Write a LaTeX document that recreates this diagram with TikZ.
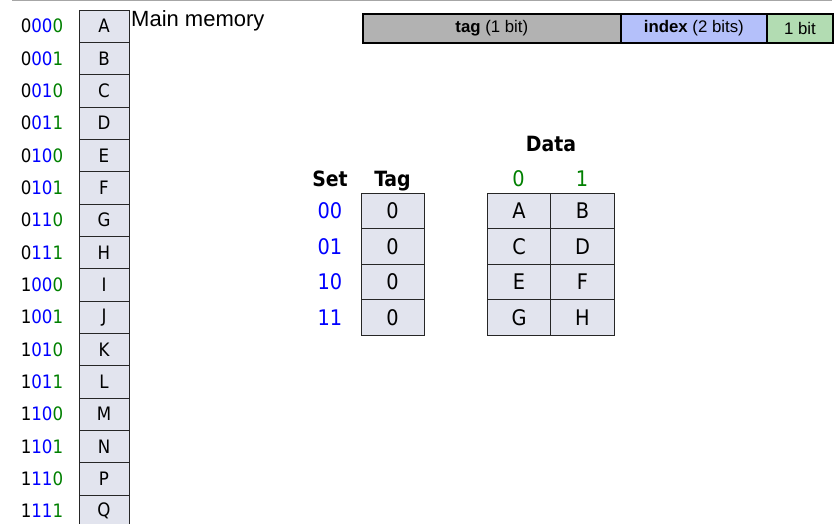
\documentclass[tikz,border=0pt]{standalone}
\usepackage{fontspec}
\setmainfont{DejaVu Sans Condensed}
\newfontfamily\arialfont{Liberation Sans}
\definecolor{cellfill}{RGB}{226,228,238}
\definecolor{addrblue}{RGB}{0,0,255}
\definecolor{addrgreen}{RGB}{0,128,0}
\definecolor{taggray}{RGB}{178,178,178}
\definecolor{idxblue}{RGB}{180,192,250}
\definecolor{bitgreen}{RGB}{178,220,178}
\definecolor{rulegray}{RGB}{166,166,166}
\begin{document}
\begin{tikzpicture}[x=1pt,y=-1pt,
  memcell/.style={draw=black!85, fill=cellfill, line width=0.9pt, minimum width=50pt, minimum height=32.33pt, inner sep=0pt, font=\fontsize{18.5}{18.5}\selectfont},
  tcell/.style={draw=black!85, fill=cellfill, line width=0.9pt, minimum width=63pt, minimum height=35.5pt, inner sep=0pt, font=\fontsize{21.5}{21.5}\selectfont},
  dcell/.style={draw=black!85, fill=cellfill, line width=0.9pt, minimum width=63.5pt, minimum height=35.5pt, inner sep=0pt, font=\fontsize{21.5}{21.5}\selectfont},
  addr/.style={inner sep=0pt, font=\fontsize{18.5}{18.5}\selectfont},
  setlbl/.style={inner sep=0pt, text=addrblue, font=\fontsize{21.5}{21.5}\selectfont},
  head/.style={inner sep=0pt, anchor=base, font=\fontsize{21}{21}\selectfont\bfseries},
  colhead/.style={inner sep=0pt, anchor=base, text=addrgreen, font=\fontsize{21.5}{21.5}\selectfont},
  field/.style={draw=black, line width=2pt, minimum height=29pt, inner sep=0pt, font=\arialfont\fontsize{16.8}{16.8}\selectfont}
]
\useasboundingbox (0,0) rectangle (840,524);
\clip (0,0) rectangle (840,524);
% top rule
\coordinate (ruleL) at (12,0.75);
\coordinate (ruleR) at (832,0.75);
\draw[rulegray, line width=1.5pt] (ruleL) -- (ruleR);

% main memory
\foreach \l [count=\i from 0] in {A,B,C,D,E,F,G,H,I,J,K,L,M,N,P,Q}
  \node[memcell] (m\i) at (104, 26.17+32.33*\i) {\l};
\foreach \a/\b/\c [count=\i from 0] in {0/00/0,0/00/1,0/01/0,0/01/1,0/10/0,0/10/1,0/11/0,0/11/1,1/00/0,1/00/1,1/01/0,1/01/1,1/10/0,1/10/1,1/11/0,1/11/1}
  \node[addr] (a\i) at (42, 26.17+32.33*\i) {\a\textcolor{addrblue}{\b}\textcolor{addrgreen}{\c}};
\node[anchor=base west, inner sep=0pt, font=\arialfont\fontsize{22}{22}\selectfont] (mmlbl) at (131,27) {Main memory};

% address fields
\node[field, fill=taggray, minimum width=257.7pt] (ftag) at (491.85,28.5) {\textbf{tag} (1 bit)};
\node[field, fill=idxblue, minimum width=146.3pt] (fidx) at (693.85,28.5) {\textbf{index} (2 bits)};
\node[field, fill=bitgreen, minimum width=66pt] (fbit) at (800,28.5) {1 bit};

% headings
\node[head] (hset) at (330,186) {Set};
\node[head] (htag) at (392.5,186) {Tag};
\node[head] (hdata) at (551,151) {Data};
\node[colhead] (h0) at (518.5,186) {0};
\node[colhead] (h1) at (582,186) {1};

% cache rows
\foreach \s/\x/\y [count=\i from 0] in {00/A/B,01/C/D,10/E/F,11/G/H}{
  \node[setlbl] (s\i) at (330, 211.05+35.5*\i) {\s};
  \node[tcell] (t\i) at (392.5, 211.05+35.5*\i) {0};
  \node[dcell] (d\i a) at (519, 211.05+35.5*\i) {\x};
  \node[dcell] (d\i b) at (582.5, 211.05+35.5*\i) {\y};
}
\end{tikzpicture}
\end{document}
